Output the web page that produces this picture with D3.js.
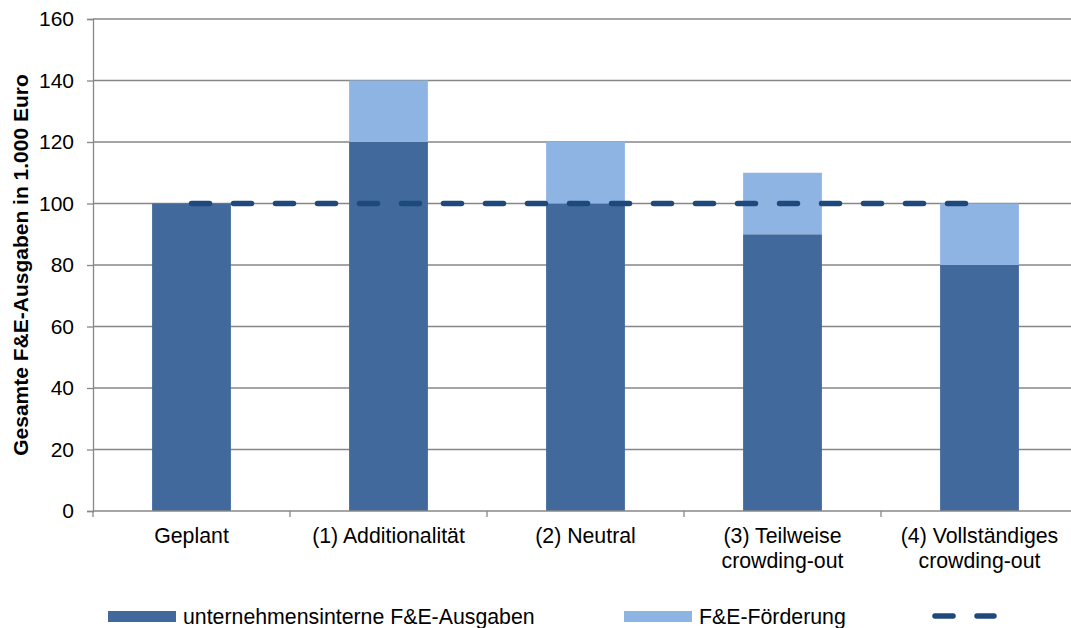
<!DOCTYPE html>
<html>
<head>
<meta charset="utf-8">
<script src="https://cdn.jsdelivr.net/npm/d3@7"></script>
<style>
  body { margin: 0; background: #fff; }
  text { font-family: "Liberation Sans", Arial, sans-serif; fill: #000; }
</style>
</head>
<body>
<div id="chart"></div>
<script>
// data
const categories = ["Geplant", "(1) Additionalität", "(2) Neutral", "(3) Teilweise\ncrowding-out", "(4) Vollständiges\ncrowding-out"];
const internal = [100, 120, 100, 90, 80];
const funding = [0, 20, 20, 20, 20];
const planned = [100, 100, 100, 100, 100];
const yTicks = [0, 20, 40, 60, 80, 100, 120, 140, 160];
const legendLabels = ["unternehmensinterne F&E-Ausgaben", "F&E-Förderung", ""];

const W = 1071, H = 628;
const margin = {top: 19, left: 93};
const width = 985, height = 492;
const fs = 21.3;

const darkBlue = "#41699b", lightBlue = "#8eb4e3", lineBlue = "#1f497d", grid = "#878787";

const svg = d3.select("#chart").append("svg")
    .attr("width", W).attr("height", H);

const g = svg.append("g").attr("transform", `translate(${margin.left},${margin.top})`);

const x = d3.scaleBand().domain(categories).range([0, width]).paddingInner(0.6).paddingOuter(0.3);
const xb = d3.scaleBand().domain(categories).range([0, width]);
const y = d3.scaleLinear().domain([0, 160]).range([height, 0]);

// gridlines
g.selectAll(".grid").data(yTicks.slice(1)).join("line")
    .attr("x1", 0).attr("x2", width)
    .attr("y1", d => y(d)).attr("y2", d => y(d))
    .attr("stroke", grid).attr("stroke-width", 1.3);

// y axis
const yAxis = g.append("g")
    .call(d3.axisLeft(y).tickValues(yTicks).tickSize(6).tickPadding(13));
yAxis.select(".domain").attr("stroke", grid).attr("stroke-width", 1.3);
yAxis.selectAll(".tick line").attr("stroke", grid).attr("stroke-width", 1.3);
yAxis.selectAll(".tick text").attr("font-size", 21).attr("font-family", "Liberation Sans, Arial, sans-serif").attr("fill", "#000");

// bars
g.selectAll(".bar-int").data(categories).join("rect")
    .attr("x", d => x(d)).attr("width", x.bandwidth())
    .attr("y", (d, i) => y(internal[i]))
    .attr("height", (d, i) => y(0) - y(internal[i]))
    .attr("fill", darkBlue);

g.selectAll(".bar-fund").data(categories).join("rect")
    .attr("x", d => x(d)).attr("width", x.bandwidth())
    .attr("y", (d, i) => y(internal[i] + funding[i]))
    .attr("height", (d, i) => y(internal[i]) - y(internal[i] + funding[i]))
    .attr("fill", lightBlue);

// x axis
g.append("line")
    .attr("x1", 0).attr("x2", width).attr("y1", height).attr("y2", height)
    .attr("stroke", grid).attr("stroke-width", 1.3);
g.selectAll(".xtick").data(d3.range(categories.length + 1)).join("line")
    .attr("x1", i => i * xb.step()).attr("x2", i => i * xb.step())
    .attr("y1", height).attr("y2", height + 6)
    .attr("stroke", grid).attr("stroke-width", 1.3);

g.selectAll(".xlabel").data(categories).join("text")
    .attr("text-anchor", "middle")
    .attr("font-size", fs)
    .attr("transform", d => `translate(${xb(d) + xb.bandwidth() / 2},${height + 32})`)
    .each(function(d) {
        d3.select(this).selectAll("tspan").data(d.split("\n")).join("tspan")
            .attr("x", 0).attr("dy", (t, i) => i === 0 ? 0 : 25).text(t => t);
    });

// planned line
const line = d3.line()
    .x((d, i) => xb(categories[i]) + xb.bandwidth() / 2)
    .y(d => y(d));
g.append("path").datum(planned)
    .attr("d", line)
    .attr("fill", "none").attr("stroke", lineBlue)
    .attr("stroke-width", 5.5).attr("stroke-linecap", "round")
    .attr("stroke-dasharray", "18 24");

// y axis title
svg.append("text")
    .attr("transform", `translate(27.5,${margin.top + height / 2}) rotate(-90)`)
    .attr("text-anchor", "middle")
    .attr("font-size", 21).attr("font-weight", "bold")
    .text("Gesamte F&E-Ausgaben in 1.000 Euro");

// legend
const leg = svg.append("g").attr("transform", "translate(0,616)");
const legX = [108, 624, 932];
leg.append("rect").attr("x", legX[0]).attr("y", -5).attr("width", 68).attr("height", 11).attr("fill", darkBlue);
leg.append("rect").attr("x", legX[1]).attr("y", -5).attr("width", 68).attr("height", 11).attr("fill", lightBlue);
leg.append("line").attr("x1", legX[2] + 3).attr("x2", legX[2] + 62).attr("y1", 0).attr("y2", 0)
    .attr("stroke", lineBlue).attr("stroke-width", 5.5).attr("stroke-linecap", "round")
    .attr("stroke-dasharray", "18 24");
leg.selectAll(".ltext").data(legendLabels.slice(0, 2)).join("text")
    .attr("x", (d, i) => legX[i] + 75).attr("y", 8)
    .attr("font-size", fs).text(d => d);
</script>
</body>
</html>
